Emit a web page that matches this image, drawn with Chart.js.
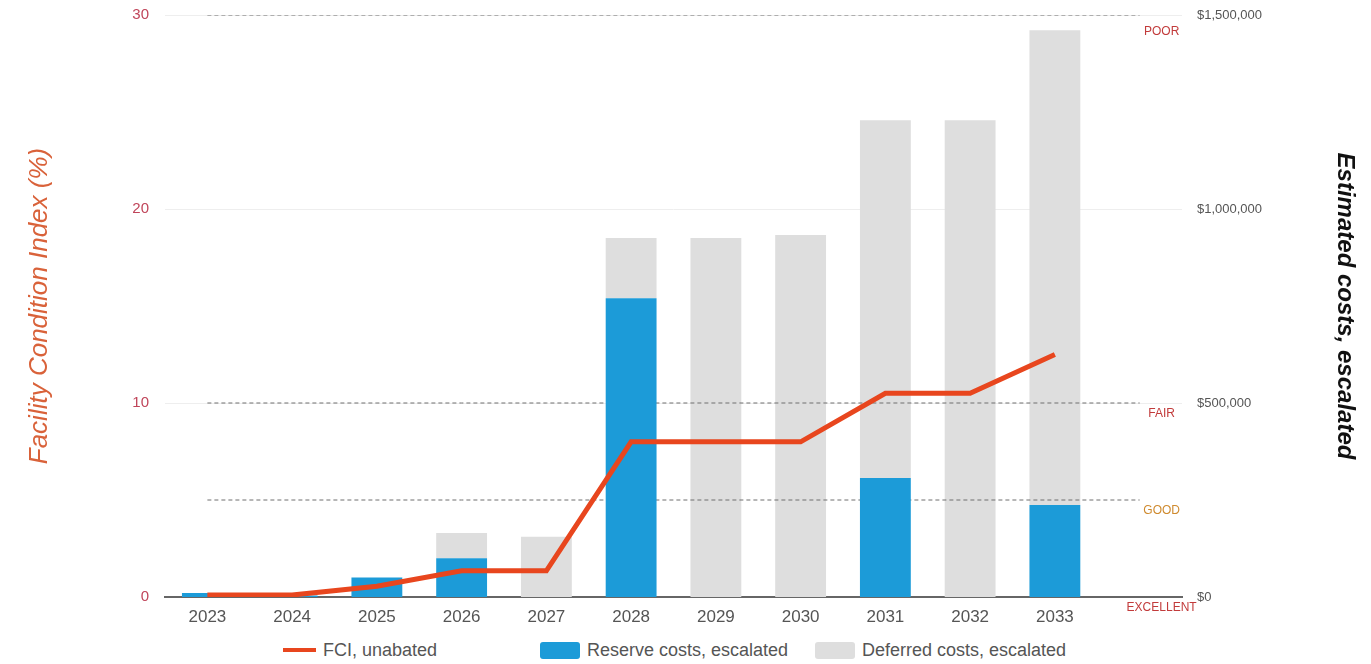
<!DOCTYPE html>
<html>
<head>
<meta charset="utf-8">
<script src="https://cdn.jsdelivr.net/npm/chart.js@4"></script>
<style>
  body { margin: 0; background: #fff; font-family: "Liberation Sans", Arial, sans-serif; }
  #wrap { position: relative; width: 1371px; height: 664px; }
  #fci { position: absolute; left: 0; top: 0; }
  #legend { position: absolute; top: 640px; left: 0; width: 1371px; height: 20px; }
  .item { position: absolute; top: 0; height: 20px; display: flex; align-items: center; font-size: 18px; color: #555; white-space: nowrap; }
</style>
</head>
<body>
<div id="wrap">
  <canvas id="fci" width="1371" height="640"></canvas>
  <div id="legend"></div>
</div>
<script>
/* -------------------------------------------------
   Data
   ------------------------------------------------- */
const years = ['2023', '2024', '2025', '2026', '2027', '2028', '2029', '2030', '2031', '2032', '2033', ''];
const fciUnabated = [0.1, 0.1, 0.55, 1.35, 1.35, 8.0, 8.0, 8.0, 10.5, 10.5, 12.5];
const reserveCosts = [10000, 4000, 50000, 100000, 0, 770000, 0, 0, 307000, 0, 237000];
const deferredCosts = [0, 0, 0, 65000, 155000, 155000, 925000, 933000, 922000, 1229000, 1224000];

const fciTicks = [0, 10, 20, 30];
const costTicks = [0, 500000, 1000000, 1500000];

const thresholdValues = [0, 5, 10, 30];
const thresholdNames = ['EXCELLENT', 'GOOD', 'FAIR', 'POOR'];
const thresholdColors = ['#c23b3b', '#cf8a2e', '#c23b3b', '#c23b3b'];

/* -------------------------------------------------
   Colours
   ------------------------------------------------- */
const RED = '#e8461e';
const BLUE = '#1c9bd8';
const GREY = '#dedede';

/* -------------------------------------------------
   Threshold lines as flat line datasets
   ------------------------------------------------- */
const thresholdSets = thresholdValues
  .filter(v => v > 0)
  .map(v => ({
    type: 'line',
    label: 'threshold ' + v,
    data: years.map(() => v),
    yAxisID: 'y',
    borderColor: '#6f6f6f',
    borderWidth: 1,
    borderDash: [4, 3],
    pointRadius: 0,
    order: 2,
    inLegend: false,
  }));

// labels under each threshold line (POOR, FAIR ...)
const thresholdLabels = {
  id: 'thresholdLabels',
  afterDatasetsDraw(chart) {
    const { ctx, scales } = chart;
    const x = scales.x.getPixelForValue(years.length - 1) + 22;
    ctx.save();
    ctx.font = '12px "Liberation Sans", Arial, sans-serif';
    ctx.textAlign = 'center';
    ctx.textBaseline = 'middle';
    thresholdValues.forEach((v, i) => {
      ctx.fillStyle = thresholdColors[i];
      const dy = v === 30 ? 17 : 11;
      ctx.fillText(thresholdNames[i], x, scales.y.getPixelForValue(v) + dy);
    });
    ctx.restore();
  }
};

// keep the plot top close to the canvas edge (tick padding would push it down)
function trimVerticalPadding(s) {
  s.paddingTop = 15;
  s.paddingBottom = 0;
}

/* -------------------------------------------------
   Chart
   ------------------------------------------------- */
const chart = new Chart(document.getElementById('fci'), {
  type: 'bar',
  data: {
    labels: years,
    datasets: [
      {
        type: 'line',
        label: 'FCI, unabated',
        data: fciUnabated,
        yAxisID: 'y',
        borderColor: RED,
        backgroundColor: RED,
        borderWidth: 5,
        pointRadius: 0,
        tension: 0,
        order: 0,
        inLegend: true,
      },
      {
        label: 'Reserve costs, escalated',
        data: reserveCosts,
        yAxisID: 'y1',
        stack: 'costs',
        backgroundColor: BLUE,
        barPercentage: 0.6,
        categoryPercentage: 1,
        order: 1,
        inLegend: true,
      },
      ...thresholdSets,
      {
        label: 'Deferred costs, escalated',
        data: deferredCosts,
        yAxisID: 'y1',
        stack: 'costs',
        backgroundColor: GREY,
        barPercentage: 0.6,
        categoryPercentage: 1,
        order: 3,
        inLegend: true,
      },
    ],
  },
  options: {
    responsive: false,
    animation: false,
    layout: { padding: 0 },
    plugins: {
      legend: { display: false },
      tooltip: { enabled: false },
    },
    scales: {
      x: {
        stacked: true,
        grid: { display: false, drawTicks: false },
        border: { display: true, color: '#666', width: 2 },
        ticks: { color: '#555', font: { size: 17 }, padding: 10 },
        afterFit(s) { s.height = 43; },
      },
      y: {
        position: 'left',
        min: 0,
        max: 30,
        afterBuildTicks(s) { s.ticks = fciTicks.map(v => ({ value: v })); },
        grid: { color: '#eeeeee', drawTicks: false },
        border: { display: false },
        ticks: { color: '#c0455a', font: { size: 15 }, padding: 16 },
        title: {
          display: true,
          text: 'Facility Condition Index (%)',
          color: '#d9623a',
          font: { size: 26, style: 'italic' },
          padding: { top: 24, bottom: 0 },
        },
        afterFit(s) { s.width = 165; trimVerticalPadding(s); },
      },
      y1: {
        position: 'right',
        stacked: true,
        min: 0,
        max: 1500000,
        afterBuildTicks(s) { s.ticks = costTicks.map(v => ({ value: v })); },
        grid: { display: false, drawTicks: false },
        border: { display: false },
        ticks: {
          color: '#555',
          font: { size: 13 },
          padding: 15,
          callback: v => '$' + Number(v).toLocaleString('en-US'),
        },
        title: {
          display: true,
          text: 'Estimated costs, escalated',
          color: '#111',
          font: { size: 24, style: 'italic', weight: 'bold' },
          padding: { top: 12, bottom: 0 },
        },
        afterFit(s) { s.width = 189; trimVerticalPadding(s); },
      },
    },
  },
  plugins: [thresholdLabels],
});

/* -------------------------------------------------
   HTML legend (fixed columns like the original)
   ------------------------------------------------- */
const legendLeft = [283, 540, 815];
const legend = document.getElementById('legend');
chart.data.datasets.filter(d => d.inLegend).forEach((d, i) => {
  const item = document.createElement('div');
  item.className = 'item';
  item.style.left = legendLeft[i] + 'px';
  const sw = document.createElement('span');
  if (d.type === 'line') {
    sw.style.cssText = `display:inline-block;width:33px;height:4px;background:${d.borderColor};margin-right:7px;`;
  } else {
    sw.style.cssText = `display:inline-block;width:40px;height:17px;border-radius:3px;background:${d.backgroundColor};margin-right:7px;`;
  }
  item.appendChild(sw);
  item.appendChild(document.createTextNode(d.label));
  legend.appendChild(item);
});
</script>
</body>
</html>
